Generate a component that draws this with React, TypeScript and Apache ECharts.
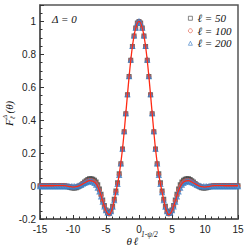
import React, { useEffect, useRef } from "react";
import * as echarts from "echarts";

// sampling grids (theta * l^(1-psi/2))
const THETA_MARKERS: number[] = Array.from({ length: 121 }, (_, i) => -15 + i * 0.25);
const THETA_LINE: number[] = Array.from({ length: 61 }, (_, i) => -15 + i * 0.5);

const SERIES_NAMES = ["ℓ = 50", "ℓ = 100", "ℓ = 200"];
const SERIES_COLORS = ["#444444", "#e0503a", "#3a7cc4"];

const L50: number[] = [
  0.002, 0.002, 0.002, 0.002, 0.002, 0.002, 0.002, 0.002,
  0.003, 0.003, 0.003, 0.003, 0.003, 0.003,
  0.002, 0.001, -0.001, -0.004, -0.007, -0.010, -0.012, -0.012, -0.010, -0.006,
  0.000, 0.007, 0.016, 0.025, 0.033, 0.040, 0.044, 0.045, 0.042, 0.036, 0.025, 0.008,
  -0.018, -0.050, -0.085, -0.118, -0.145, -0.162, -0.165, -0.152, -0.122, -0.080, -0.030, 0.020,
  0.075, 0.135, 0.225, 0.330, 0.440, 0.555, 0.665, 0.765, 0.848, 0.912, 0.960, 0.990,
  1.000,
  0.990, 0.960, 0.912, 0.848, 0.765, 0.665, 0.555, 0.440, 0.330, 0.225, 0.135, 0.075,
  0.020, -0.030, -0.080, -0.122, -0.152, -0.165, -0.162, -0.145, -0.118, -0.085, -0.050, -0.018,
  0.008, 0.025, 0.036, 0.042, 0.045, 0.044, 0.040, 0.033, 0.025, 0.016, 0.007, 0.000,
  -0.006, -0.010, -0.012, -0.012, -0.010, -0.007, -0.004, -0.001, 0.001, 0.002,
  0.003, 0.003, 0.003, 0.003, 0.003, 0.003,
  0.002, 0.002, 0.002, 0.002, 0.002, 0.002, 0.002, 0.002,
];

const L100: number[] = [
  0.002, 0.002, 0.002, 0.002, 0.002, 0.002, 0.002, 0.002, 0.002, 0.002,
  0.003, 0.003, 0.003, 0.003, 0.003,
  0.002, 0.001, -0.001, -0.003, -0.005, -0.006, -0.006, -0.004, -0.001,
  0.003, 0.008, 0.014, 0.020, 0.026, 0.031, 0.034, 0.034, 0.031, 0.025, 0.014, -0.003,
  -0.027, -0.057, -0.089, -0.120, -0.147, -0.165, -0.170, -0.157, -0.127, -0.085, -0.035, 0.015,
  0.070, 0.135, 0.225, 0.330, 0.440, 0.555, 0.665, 0.765, 0.848, 0.912, 0.960, 0.990,
  1.000,
  0.990, 0.960, 0.912, 0.848, 0.765, 0.665, 0.555, 0.440, 0.330, 0.225, 0.135, 0.070,
  0.015, -0.035, -0.085, -0.127, -0.157, -0.170, -0.165, -0.147, -0.120, -0.089, -0.057, -0.027,
  -0.003, 0.014, 0.025, 0.031, 0.034, 0.034, 0.031, 0.026, 0.020, 0.014, 0.008, 0.003,
  -0.001, -0.004, -0.006, -0.006, -0.005, -0.003, -0.001, 0.001, 0.002,
  0.003, 0.003, 0.003, 0.003, 0.003,
  0.002, 0.002, 0.002, 0.002, 0.002, 0.002, 0.002, 0.002, 0.002, 0.002,
];

const L200: number[] = [
  -0.003, -0.003, -0.003, -0.003, -0.003, -0.003, -0.003, -0.003, -0.003,
  -0.003, -0.003, -0.003, -0.003, -0.003, -0.003, -0.003, -0.003, -0.003,
  -0.004, -0.004, -0.005, -0.005, -0.004, -0.002,
  0.002, 0.006, 0.011, 0.016, 0.021, 0.025, 0.027, 0.027, 0.024, 0.017, 0.006, -0.012,
  -0.036, -0.066, -0.097, -0.127, -0.150, -0.163, -0.165, -0.155, -0.128, -0.088, -0.040, 0.010,
  0.065, 0.135, 0.225, 0.330, 0.440, 0.555, 0.665, 0.765, 0.848, 0.912, 0.960, 0.990,
  1.000,
  0.990, 0.960, 0.912, 0.848, 0.765, 0.665, 0.555, 0.440, 0.330, 0.225, 0.135, 0.065,
  0.010, -0.040, -0.088, -0.128, -0.155, -0.165, -0.163, -0.150, -0.127, -0.097, -0.066, -0.036,
  -0.012, 0.006, 0.017, 0.024, 0.027, 0.027, 0.025, 0.021, 0.016, 0.011, 0.006, 0.002,
  -0.002, -0.004, -0.005, -0.005, -0.004, -0.004,
  -0.003, -0.003, -0.003, -0.003, -0.003, -0.003, -0.003, -0.003, -0.003,
  -0.003, -0.003, -0.003, -0.003, -0.003, -0.003, -0.003, -0.003, -0.003,
];

const LIMIT_CURVE: number[] = [
  0.002, 0.002, 0.002, 0.002, 0.002, 0.003, 0.003, 0.003, 0.001, -0.003,
  -0.006, -0.004, 0.003, 0.013, 0.025, 0.033, 0.030, 0.013, -0.027, -0.090,
  -0.150, -0.174, -0.128, -0.036, 0.070, 0.225, 0.440, 0.665, 0.848, 0.960,
  1.000,
  0.960, 0.848, 0.665, 0.440, 0.225, 0.070, -0.036, -0.128, -0.174, -0.150,
  -0.090, -0.027, 0.013, 0.030, 0.033, 0.025, 0.013, 0.003, -0.004, -0.006,
  -0.003, 0.001, 0.003, 0.003, 0.003, 0.002, 0.002, 0.002, 0.002, 0.002,
];

const X_MIN = -15, X_MAX = 15, X_STEP = 5;
const Y_MIN = -0.2, Y_MAX = 1.1, Y_STEP = 0.2;

const SERIF = "'Liberation Serif', 'DejaVu Serif', serif";
const SANS = "'Liberation Sans', Arial, sans-serif";
const FRAME = "#555555";

export default function App() {
  const ref = useRef<HTMLDivElement>(null);
  useEffect(() => {
    if (!ref.current) return;
    const chart = echarts.init(ref.current, null, { renderer: "svg" });
    const pair = (xs: number[], ys: number[]) => xs.map((x, i) => [x, ys[i]]);
    const axisCommon = {
      axisLine: { show: true, onZero: false, lineStyle: { color: FRAME, width: 1.5 } },
      axisTick: { show: true, inside: true, length: 4, lineStyle: { color: "#333", width: 1 } },
      minorTick: { show: true, length: 2.5, lineStyle: { color: "#333", width: 1 } },
      splitLine: { show: false },
      axisLabel: { color: "#222", fontFamily: SANS, fontSize: 10 },
    };
    const symbols = ["emptyRect", "emptyCircle", "emptyTriangle"];
    chart.setOption({
      animation: false,
      backgroundColor: "#ffffff",
      grid: { left: 40, right: 11, top: 5, bottom: 30, show: true, borderColor: FRAME, borderWidth: 1.5, backgroundColor: "transparent" },
      xAxis: {
        type: "value", min: X_MIN, max: X_MAX, interval: X_STEP,
        ...axisCommon,
        minorTick: { ...axisCommon.minorTick, splitNumber: 5 },
        axisLabel: { ...axisCommon.axisLabel, margin: 5 },
      },
      yAxis: {
        type: "value", min: Y_MIN, max: Y_MAX, interval: Y_STEP,
        ...axisCommon,
        minorTick: { ...axisCommon.minorTick, splitNumber: 4 },
        axisLabel: { ...axisCommon.axisLabel, margin: 4, showMaxLabel: false, formatter: (v: number) => (Math.abs(v) < 1e-9 ? "0" : String(Math.round(v * 10) / 10)) },
      },
      legend: {
        orient: "vertical", left: 183, top: 7, itemGap: 0, itemWidth: 4, itemHeight: 4,
        data: SERIES_NAMES.map((n, i) => ({
          name: n,
          icon: ["rect", "circle", "triangle"][i],
          itemStyle: { color: "#ffffff", borderColor: SERIES_COLORS[i], borderWidth: 0.8 },
        })),
        textStyle: { fontFamily: SERIF, fontStyle: "italic", fontSize: 11, color: "#111", lineHeight: 12.5 },
      },
      series: [
        ...SERIES_NAMES.map((n, i) => ({
          name: n, type: "scatter", symbol: symbols[i], symbolSize: i === 2 ? 3.2 : 3,
          data: pair(THETA_MARKERS, [L50, L100, L200][i]),
          itemStyle: { color: SERIES_COLORS[i], borderWidth: 0.5 },
        })),
        { name: "limit", type: "line", data: pair(THETA_LINE, LIMIT_CURVE), smooth: 0.3, showSymbol: false, z: 5, lineStyle: { color: "#ff2a14", width: 1.3 } },
      ],
      graphic: [
        { type: "text", left: 52, top: 13, style: { text: "Δ = 0", font: `italic 11px ${SERIF}`, fill: "#111" } },
        {
          type: "group", x: 9, y: 112, rotation: Math.PI / 2,
          children: [
            { type: "text", x: -14, y: 0, style: { text: "F", font: `italic 11px ${SERIF}`, fill: "#111", verticalAlign: "middle", align: "left" } },
            { type: "text", x: -7, y: -4, style: { text: "Δ", font: `italic 7px ${SERIF}`, fill: "#111", verticalAlign: "middle", align: "left" } },
            { type: "text", x: -7, y: 3.5, style: { text: "ℓ", font: `italic 7px ${SERIF}`, fill: "#111", verticalAlign: "middle", align: "left" } },
            { type: "text", x: -1.5, y: 0, style: { text: "(θ)", font: `italic 11px ${SERIF}`, fill: "#111", verticalAlign: "middle", align: "left" } },
          ],
        },
        { type: "text", x: 126.5, y: 241, style: { text: "θ", font: `italic 11px ${SERIF}`, fill: "#111", verticalAlign: "middle", align: "left" } },
        { type: "text", x: 133.5, y: 241, style: { text: "ℓ", font: `italic 11px ${SERIF}`, fill: "#111", verticalAlign: "middle", align: "left" } },
        { type: "text", x: 141, y: 234.5, style: { text: "1-ψ/2", font: `italic 7.5px ${SERIF}`, fill: "#111", verticalAlign: "middle", align: "left" } },
      ],
    });
    return () => chart.dispose();
  }, []);
  return <div ref={ref} style={{ position: "fixed", left: 0, top: 0, width: 249, height: 249, background: "#fff" }} />;
}
